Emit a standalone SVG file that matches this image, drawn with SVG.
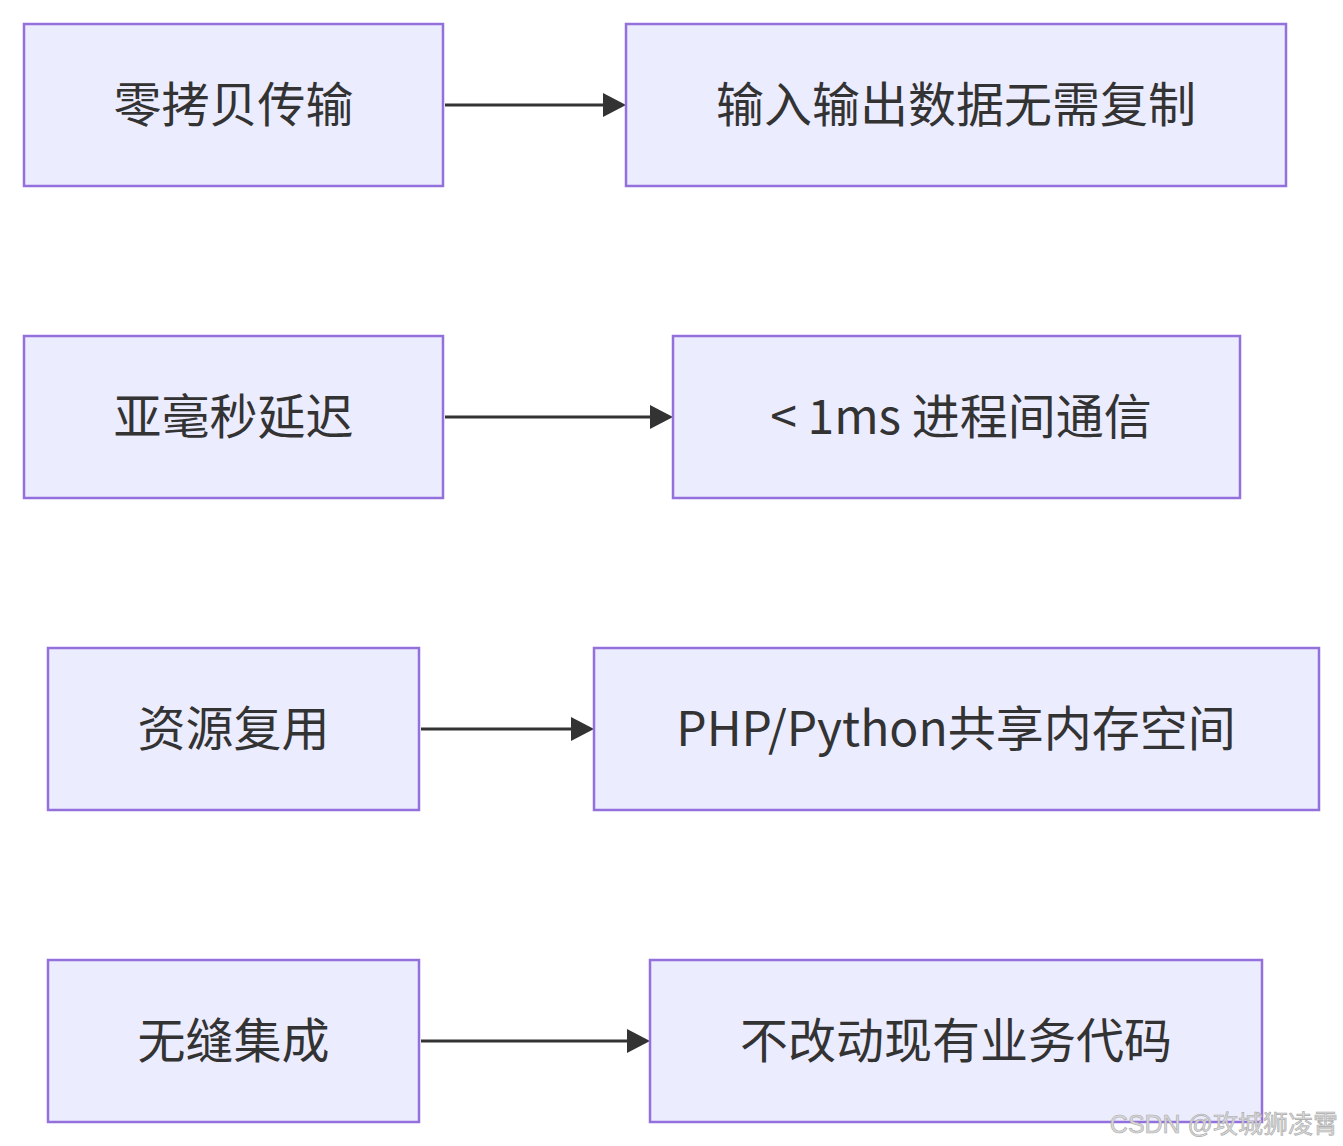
<svg xmlns="http://www.w3.org/2000/svg" width="1343" height="1146" viewBox="0 0 1343 1146">
<defs>
<style>
.box{fill:#ECECFF;stroke:#9370DB;stroke-width:2.5}
.lbl{font-family:"Noto Sans CJK SC","Noto Sans",sans-serif;font-size:48px;fill:#333333;text-anchor:middle}
.edge{stroke:#333333;stroke-width:3;fill:none}
.head{fill:#333333}
.wm{font-family:"Liberation Sans","Noto Sans CJK SC",sans-serif;font-size:25px;fill:#d9d9d9;stroke:#aaaaaa;stroke-width:0.6;text-anchor:end}
</style>
</defs>
<rect width="1343" height="1146" fill="#ffffff"/>
<g id="edges">
<path class="edge" d="M445,105 L604,105"/>
<path class="head" d="M603,93 L626,105 L603,117 Z"/>
<path class="edge" d="M445,417 L651,417"/>
<path class="head" d="M650,405 L673,417 L650,429 Z"/>
<path class="edge" d="M421,729 L572,729"/>
<path class="head" d="M571,717 L594,729 L571,741 Z"/>
<path class="edge" d="M421,1041 L628,1041"/>
<path class="head" d="M627,1029 L650,1041 L627,1053 Z"/>
</g>
<g id="A1"><rect class="box" x="24" y="24" width="419" height="162"/><text class="lbl" x="233.5" y="122">零拷贝传输</text></g>
<g id="B1"><rect class="box" x="626" y="24" width="660" height="162"/><text class="lbl" x="956" y="122">输入输出数据无需复制</text></g>
<g id="A2"><rect class="box" x="24" y="336" width="419" height="162"/><text class="lbl" x="233.5" y="434">亚毫秒延迟</text></g>
<g id="B2"><rect class="box" x="673" y="336" width="567" height="162"/><text class="lbl" x="961" y="434">&lt; 1ms 进程间通信</text></g>
<g id="A3"><rect class="box" x="48" y="648" width="371" height="162"/><text class="lbl" x="233.5" y="746">资源复用</text></g>
<g id="B3"><rect class="box" x="594" y="648" width="725" height="162"/><text class="lbl" x="956" y="746">PHP/Python共享内存空间</text></g>
<g id="A4"><rect class="box" x="48" y="960" width="371" height="162"/><text class="lbl" x="233.5" y="1058">无缝集成</text></g>
<g id="B4"><rect class="box" x="650" y="960" width="612" height="162"/><text class="lbl" x="956" y="1058">不改动现有业务代码</text></g>
<text class="wm" x="1338" y="1133">CSDN @攻城狮凌霄</text>
</svg>
